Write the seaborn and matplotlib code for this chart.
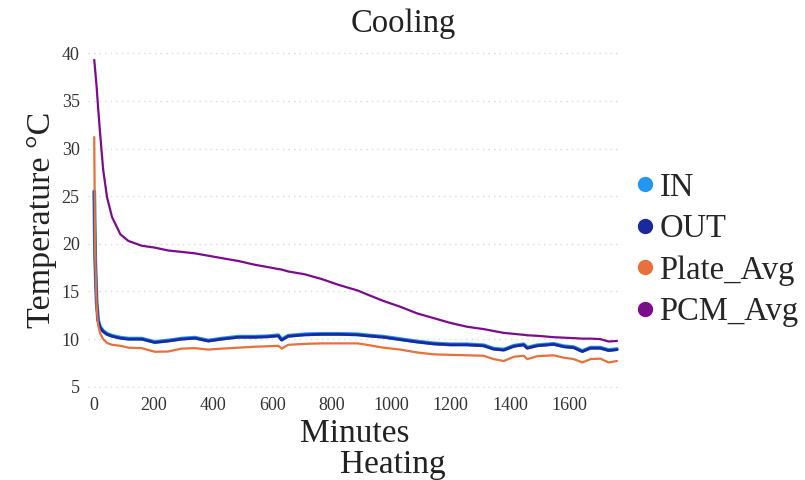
import matplotlib
matplotlib.use("Agg")
import matplotlib.pyplot as plt
from matplotlib.lines import Line2D
import seaborn as sns
import pandas as pd

minutes = [0, 3, 8, 13, 20, 30, 43, 60, 88, 115, 160, 204, 249, 294, 339, 384, 429,
           485, 541, 586, 620, 631, 653, 709, 766, 822, 887, 918, 974, 1030, 1087,
           1143, 1199, 1255, 1311, 1345, 1379, 1413, 1446, 1458, 1491, 1547, 1581,
           1615, 1643, 1671, 1704, 1732, 1760]

pcm_avg = [39.3, 38.3, 36.5, 34.3, 31.5, 27.8, 24.9, 22.8, 21.0, 20.3, 19.8, 19.6,
           19.3, 19.15, 19.0, 18.75, 18.5, 18.2, 17.8, 17.55, 17.35, 17.3, 17.1,
           16.8, 16.3, 15.7, 15.1, 14.7, 14.0, 13.4, 12.7, 12.2, 11.7, 11.3, 11.05,
           10.85, 10.65, 10.55, 10.45, 10.4, 10.35, 10.2, 10.15, 10.1, 10.05, 10.05,
           10.0, 9.75, 9.8]

out_vals = [25.5, 18.5, 13.8, 11.9, 11.2, 10.8, 10.5, 10.3, 10.1, 10.0, 10.0, 9.65,
            9.8, 10.0, 10.1, 9.8, 10.0, 10.2, 10.2, 10.25, 10.35, 9.9, 10.3, 10.45,
            10.5, 10.5, 10.45, 10.35, 10.2, 9.95, 9.7, 9.5, 9.4, 9.4, 9.3, 8.95,
            8.85, 9.25, 9.4, 9.05, 9.3, 9.45, 9.2, 9.1, 8.7, 9.05, 9.05, 8.8, 8.9]

in_vals = [25.5, 18.6, 13.9, 12.0, 11.25, 10.85, 10.55, 10.35, 10.15, 10.05, 10.05,
           9.7, 9.85, 10.05, 10.15, 9.85, 10.05, 10.25, 10.25, 10.3, 10.4, 9.95,
           10.35, 10.5, 10.55, 10.55, 10.5, 10.4, 10.25, 10.0, 9.75, 9.55, 9.45,
           9.45, 9.35, 9.0, 8.9, 9.3, 9.45, 9.1, 9.35, 9.5, 9.25, 9.15, 8.75, 9.1,
           9.1, 8.85, 8.95]

plate_avg = [31.2, 19.0, 13.5, 11.5, 10.6, 10.0, 9.6, 9.4, 9.3, 9.1, 9.05, 8.67,
             8.7, 9.0, 9.05, 8.9, 9.0, 9.1, 9.2, 9.25, 9.3, 9.0, 9.4, 9.5, 9.55,
             9.55, 9.55, 9.4, 9.1, 8.9, 8.6, 8.4, 8.35, 8.3, 8.25, 7.9, 7.7, 8.15,
             8.25, 7.9, 8.2, 8.3, 8.05, 7.9, 7.55, 7.9, 7.95, 7.55, 7.7]

series_names = ["IN", "OUT", "Plate_Avg", "PCM_Avg"]
series_colors = ["#2196F3", "#1A2A9C", "#E8703A", "#7B0C8C"]
x_ticks = [0, 200, 400, 600, 800, 1000, 1200, 1400, 1600]
y_ticks = [5, 10, 15, 20, 25, 30, 35, 40]

frames = []
for name, vals in zip(series_names, [in_vals, out_vals, plate_avg, pcm_avg]):
    frames.append(pd.DataFrame({"Minutes": minutes, "Temp": vals, "Series": name}))
df = pd.concat(frames, ignore_index=True)

sns.set_style("white")
plt.rcParams["font.family"] = ["Liberation Serif", "DejaVu Serif"]

fig = plt.figure(figsize=(8.05, 4.8), dpi=100)
ax = fig.add_axes([88 / 805, 1 - 387.7 / 480, (622 - 88) / 805, (387.7 - 52.3) / 480])

widths = {"IN": 2.8, "OUT": 2.0, "Plate_Avg": 1.6, "PCM_Avg": 1.6}
for name, color in zip(series_names, series_colors):
    sub = df[df["Series"] == name]
    sns.lineplot(data=sub, x="Minutes", y="Temp", color=color, lw=widths[name],
                 ax=ax, sort=False, legend=False, zorder=3)

ax.set_xlim(-21, 1777)
ax.set_ylim(4.9, 40.1)
ax.set_xticks(x_ticks)
ax.set_yticks(y_ticks)
ax.tick_params(axis="both", length=0, labelsize=13, colors="#333333")
ax.tick_params(axis="x", pad=7)
ax.tick_params(axis="y", pad=6)
ax.yaxis.grid(True, color="#d8d8d8", linestyle=(0, (1, 3)), linewidth=1.0)
ax.xaxis.grid(False)
for s in ax.spines.values():
    s.set_visible(False)

ax.set_xlabel("Minutes", fontsize=24, color="#222222", labelpad=3)
ax.set_ylabel("Temperature °C", fontsize=24.5, color="#222222", labelpad=3)
fig.text(403 / 805, 1 - 24 / 480, "Cooling", fontsize=23.5, color="#222222",
         ha="center", va="center")
fig.text(393 / 805, 1 - 465 / 480, "Heating", fontsize=24, color="#222222",
         ha="center", va="center")

handles = [Line2D([0], [0], marker="o", linestyle="", markersize=10,
                  markerfacecolor=c, markeredgecolor=c) for c in series_colors]
fig.legend(handles, series_names, loc="upper left",
           bbox_to_anchor=(630 / 805, 1 - 172 / 480), frameon=False,
           fontsize=23.5, handletextpad=0.0, labelspacing=0.34, handlelength=0.9,
           borderpad=0.0, borderaxespad=0.0)

fig.savefig("out.png", dpi=100)
